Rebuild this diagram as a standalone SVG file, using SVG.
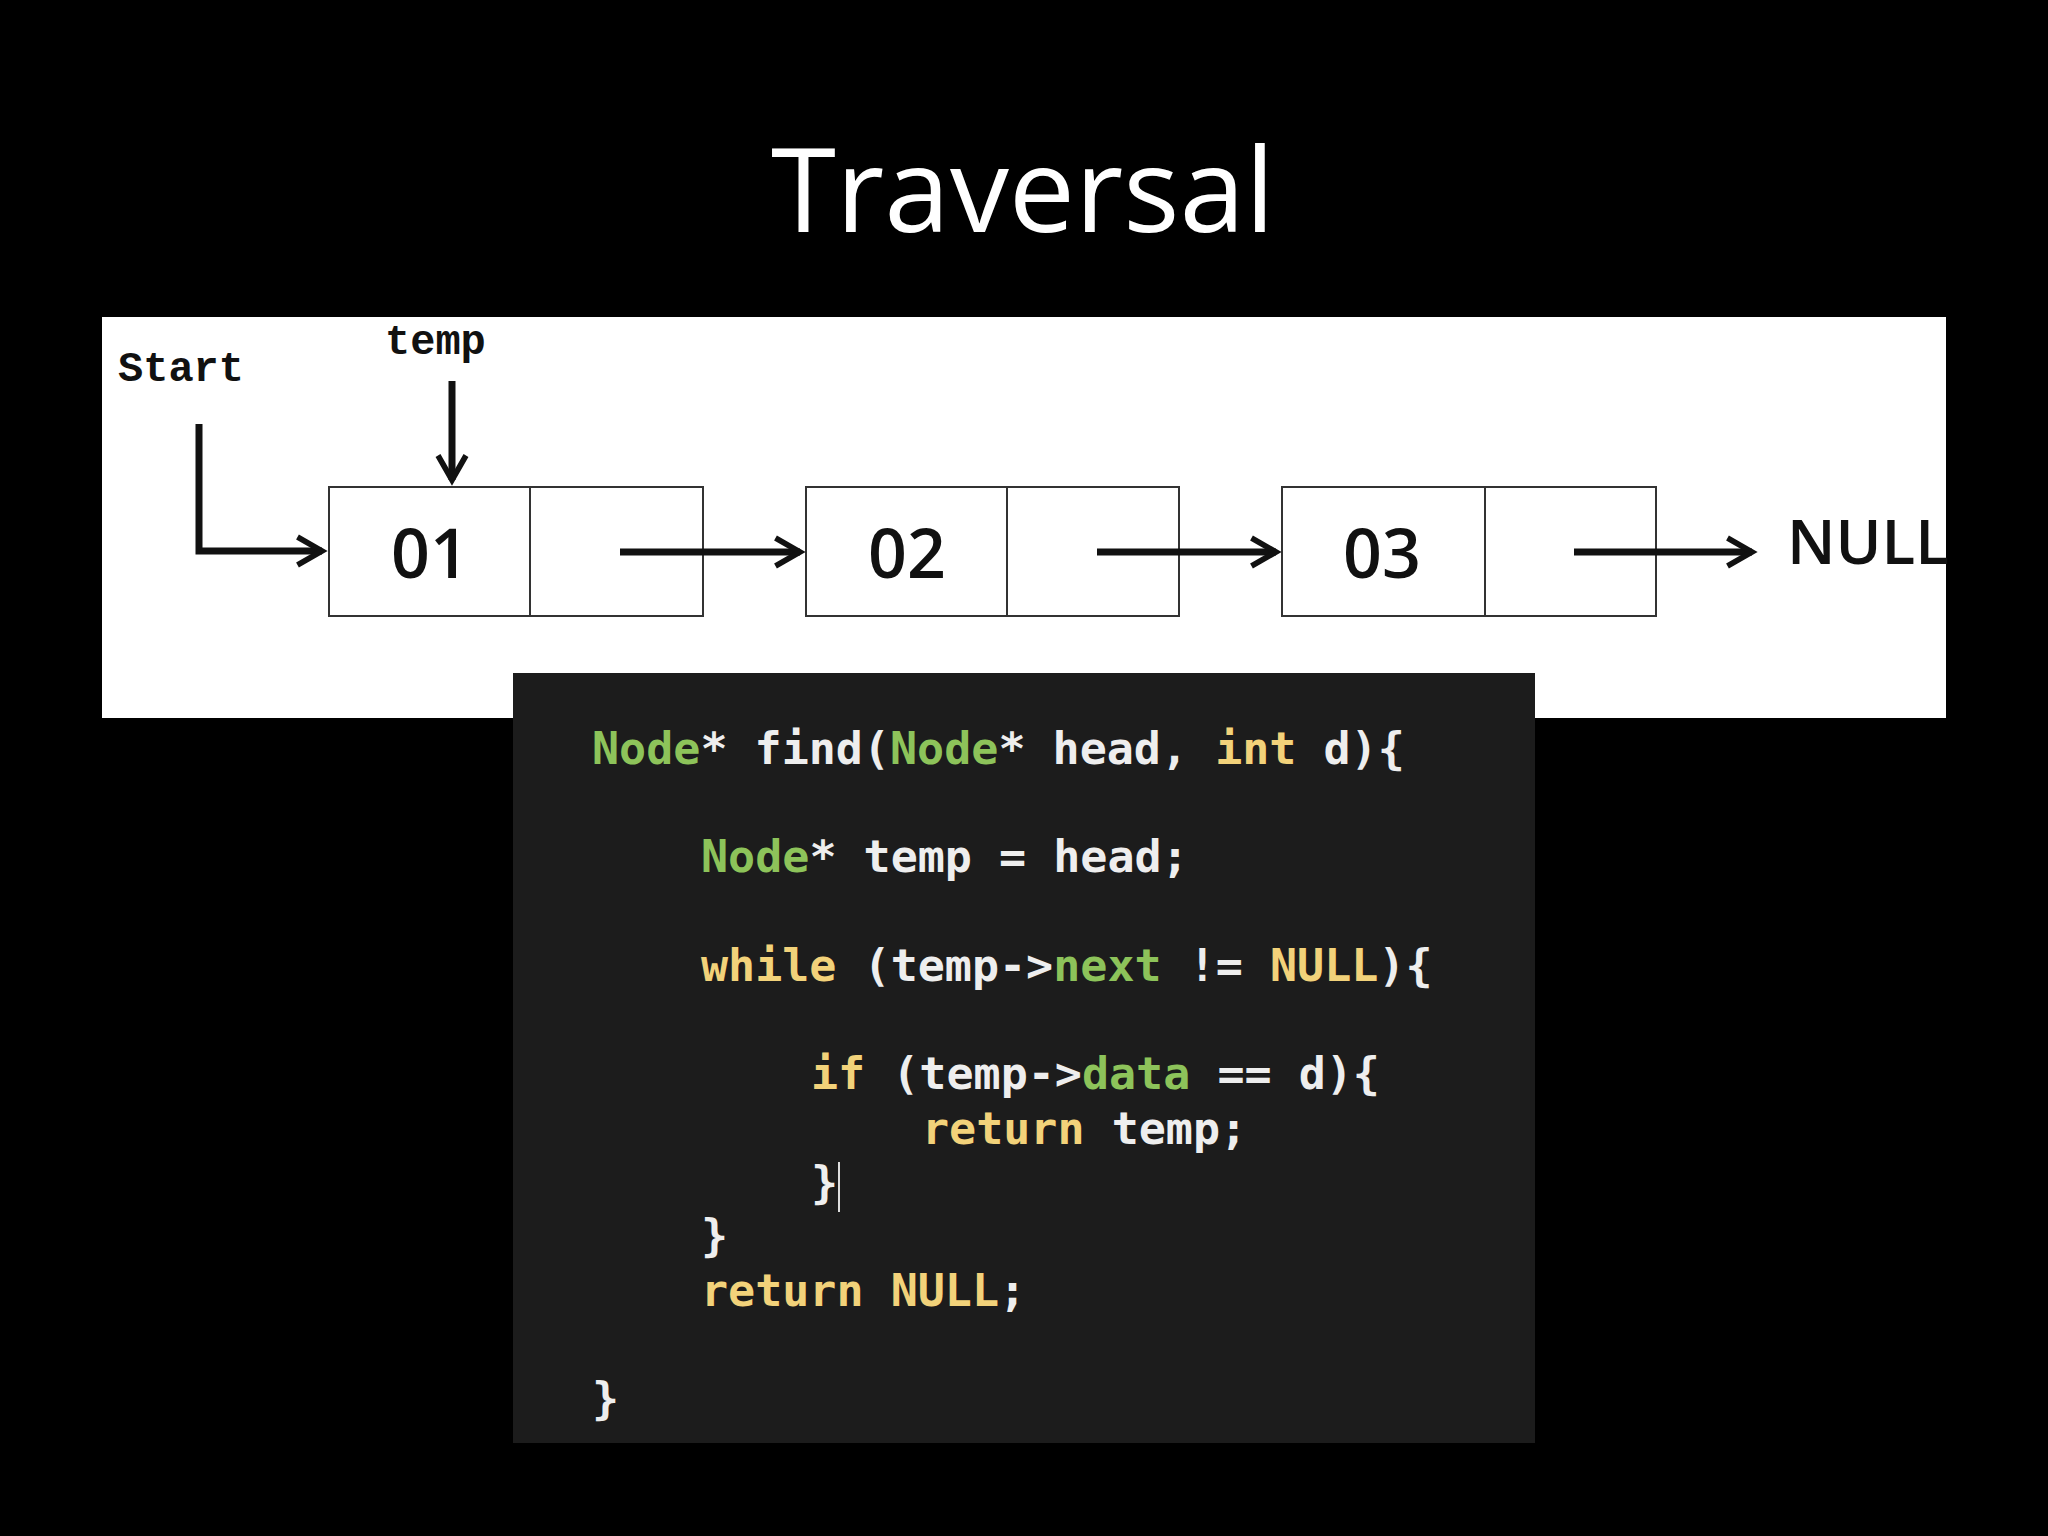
<svg xmlns="http://www.w3.org/2000/svg" width="2048" height="1536" viewBox="0 0 2048 1536">
<defs>
<marker id="ah" viewBox="0 0 10 10" refX="8" refY="5" markerWidth="5" markerHeight="5" orient="auto" markerUnits="strokeWidth"><path d="M1,1 L8,5 L1,9" fill="none" stroke="#111" stroke-width="1.6"/></marker>
<style>
.box{fill:#fff;stroke:#333;stroke-width:2}
.lbl{font-family:"Open Sans","DejaVu Sans",sans-serif;font-size:68px;font-weight:600;fill:#111;text-anchor:middle}
.arr{stroke:#111;stroke-width:7;fill:none;marker-end:url(#ah)}
.mono{font-family:"Liberation Mono","DejaVu Sans Mono",monospace;font-weight:bold;font-size:42px;fill:#111}
.code{font-family:"DejaVu Sans Mono",monospace;font-weight:bold;font-size:45px;fill:#eeeeee;white-space:pre}
.g{fill:#8dc35a}.y{fill:#f2d27a}
</style>
</defs>
<rect width="2048" height="1536" fill="#000"/>
<text x="1023" y="232" font-family="Open Sans,Lato,sans-serif" font-size="118" fill="#fff" text-anchor="middle">Traversal</text>
<rect x="102" y="317" width="1844" height="401" fill="#fff"/>
<text class="mono" x="118" y="381">Start</text>
<text class="mono" x="385" y="354">temp</text>
<g id="n1"><rect class="box" x="329" y="487" width="374" height="129"/><line x1="530" y1="487" x2="530" y2="616" stroke="#333" stroke-width="2"/><text class="lbl" x="430" y="578">01</text></g>
<g id="n2"><rect class="box" x="806" y="487" width="373" height="129"/><line x1="1007" y1="487" x2="1007" y2="616" stroke="#333" stroke-width="2"/><text class="lbl" x="907" y="578">02</text></g>
<g id="n3"><rect class="box" x="1282" y="487" width="374" height="129"/><line x1="1485" y1="487" x2="1485" y2="616" stroke="#333" stroke-width="2"/><text class="lbl" x="1382" y="578">03</text></g>
<text x="1787" y="564" font-family="Open Sans,DejaVu Sans,sans-serif" font-size="62" font-weight="600" fill="#111">NULL</text>
<g id="connectors">
<path class="arr" d="M199,424 V551 H322"/>
<path class="arr" d="M452,381 V480"/>
<path class="arr" d="M620,552 H800"/>
<path class="arr" d="M1097,552 H1276"/>
<path class="arr" d="M1574,552 H1752"/>
</g>
<rect x="513" y="673" width="1022" height="770" fill="#1c1c1c"/>
<g class="code">
<text x="592" y="764"><tspan class="g">Node</tspan>* find(<tspan class="g">Node</tspan>* head, <tspan class="y">int</tspan> d){</text>
<text x="701" y="872"><tspan class="g">Node</tspan>* temp = head;</text>
<text x="701" y="981"><tspan class="y">while</tspan> (temp-&gt;<tspan class="g">next</tspan> != <tspan class="y">NULL</tspan>){</text>
<text x="811" y="1089"><tspan class="y">if</tspan> (temp-&gt;<tspan class="g">data</tspan> == d){</text>
<text x="922" y="1144"><tspan class="y">return</tspan> temp;</text>
<text x="811" y="1198">}</text>
<text x="701" y="1251">}</text>
<text x="701" y="1306"><tspan class="y">return</tspan> <tspan class="y">NULL</tspan>;</text>
<text x="592" y="1414">}</text>
</g>
<line x1="839" y1="1162" x2="839" y2="1212" stroke="#ddd" stroke-width="2"/>
</svg>
